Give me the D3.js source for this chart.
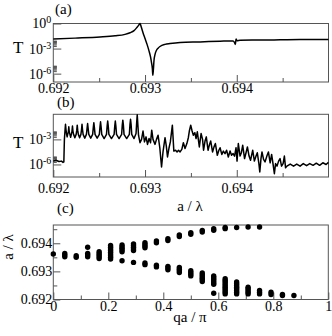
<!DOCTYPE html>
<html><head><meta charset="utf-8">
<script src="https://cdn.jsdelivr.net/npm/d3@7"></script>
<style>
body{margin:0;background:#fff}
svg{display:block}
svg text{font-family:'Liberation Serif','Times New Roman',Times,'DejaVu Serif',serif !important;fill:#000}
</style></head><body>
<svg id="chart" width="332" height="336"></svg>
<script>
// ---------- DATA ----------
// panel (a): transmission T vs a/lambda (log10 T)
const aLambdaA = [0.692000,0.692237,0.692509,0.692673,0.692782,0.692837,0.692880,0.692913,0.692935,0.692946,0.692957,0.692978,0.693000,0.693022,0.693044,0.693060,0.693071,0.693080,0.693085,0.693091,0.693098,0.693109,0.693125,0.693142,0.693163,0.693218,0.693273,0.693382,0.693600,0.693818,0.693960,0.693976,0.693985,0.693992,0.694003,0.694036,0.694254,0.694472,0.694690,0.695000];
const log10TA = [-1.85,-1.75,-1.62,-1.48,-1.3,-1.1,-0.85,-0.45,-0.15,0,-0.35,-1.1,-1.8,-2.5,-3.3,-4.0,-4.7,-5.4,-6.2,-5.5,-4.4,-3.7,-3.2,-2.95,-2.75,-2.5,-2.4,-2.27,-2.2,-2.12,-2.08,-2.3,-2.5,-1.85,-2.05,-2.0,-1.98,-1.95,-1.92,-1.9];

// panel (b): transmission T vs a/lambda (log10 T)
const aLambdaB = [
 0.692000,0.692029,0.692062,0.692089,0.692106,0.692115,
 0.692121,0.692128,0.692133,0.692138,0.692145,0.692151,
 0.692157,0.692164,0.692169,0.692174,0.692181,0.692189,
 0.692197,0.692204,0.692209,0.692214,0.692221,0.692235,
 0.692249,0.692256,0.692261,0.692266,0.692273,0.692287,
 0.692301,0.692308,0.692313,0.692318,0.692325,0.692343,
 0.692361,0.692368,0.692374,0.692380,0.692387,0.692408,
 0.692429,0.692436,0.692442,0.692448,0.692455,0.692478,
 0.692502,0.692509,0.692515,0.692521,0.692528,0.692554,
 0.692580,0.692587,0.692593,0.692599,0.692606,0.692634,
 0.692663,0.692670,0.692676,0.692682,0.692689,0.692717,
 0.692745,0.692752,0.692758,0.692764,0.692771,0.692800,
 0.692829,0.692836,0.692842,0.692848,0.692855,0.692880,
 0.692902,0.692909,0.692915,0.692921,0.692929,
 0.692945,0.692962,0.692978,0.692994,0.693011,0.693027,0.693044,0.693060,0.693073,0.693087,0.693109,0.693125,0.693142,0.693161,0.693180,0.693196,0.693218,0.693232,0.693245,0.693262,0.693276,0.693298,0.693314,0.693333,0.693349,0.693365,0.693382,0.693401,0.693418,0.693436,0.693456,0.693472,0.693483,0.693498,0.693513,0.693527,0.693543,0.693556,0.693570,0.693592,0.693611,0.693627,0.693638,0.693654,0.693668,0.693687,0.693703,0.693716,0.693736,0.693752,0.693767,0.693788,0.693805,0.693818,0.693837,0.693854,0.693872,0.693889,0.693908,0.693927,0.693943,0.693960,0.693976,0.693992,0.694003,0.694017,0.694036,0.694050,0.694065,0.694085,0.694101,0.694116,0.694134,0.694150,0.694174,0.694192,0.694210,0.694224,0.694240,0.694251,0.694264,0.694275,0.694292,0.694308,0.694328,0.694345,0.694364,0.694380,0.694396,0.694410,0.694423,0.694439,0.694456,0.694472,0.694488,0.694505,0.694519,0.694532,0.694547,0.694583,0.694619,0.694654,0.694690,0.694725,0.694761,0.694796,0.694832,0.694867,0.694903,0.694938,0.694974,0.694999];
const log10TB = [
 -5.6,-5.5,-5.65,-5.6,-5.75,-5.7,
 -3.0,-1.9,-1.2,-1.8,-2.4,-2.7,
 -2.4,-2.1,-1.5,-2.1,-2.4,-2.75,
 -2.4,-2.0,-1.4,-2.0,-2.4,-2.8,
 -2.4,-1.9,-1.3,-1.9,-2.4,-2.8,
 -2.4,-1.8,-1.2,-1.8,-2.4,-2.85,
 -2.4,-1.7,-1.1,-1.7,-2.4,-2.85,
 -2.4,-1.6,-1.0,-1.6,-2.4,-2.85,
 -2.4,-1.5,-0.9,-1.5,-2.4,-2.9,
 -2.4,-1.4,-0.8,-1.4,-2.4,-2.9,
 -2.4,-1.4,-0.8,-1.4,-2.4,-2.9,
 -2.4,-1.3,-0.7,-1.3,-2.4,-2.9,
 -2.4,-1.2,-0.6,-1.2,-2.4,-2.9,
 -2.3,-1.0,-0.05,-1.1,-2.5,
 -3.4,-3.0,-2.0,-3.3,-2.7,-3.6,-2.9,-3.4,-1.9,-3.0,-3.6,-3.0,-2.5,-4.0,-6.3,-4.5,-2.8,-3.8,-5.1,-4.0,-3.3,-1.3,-4.4,-4.3,-4.5,-4.3,-4.5,-4.2,-3.4,-4.1,-3.5,-2.8,-2.0,-1.3,-2.0,-2.5,-2.2,-2.9,-2.1,-3.9,-2.3,-3.0,-4.3,-3.2,-2.7,-4.3,-3.6,-3.2,-4.5,-3.9,-3.5,-4.9,-4.3,-4.0,-4.8,-4.4,-4.7,-4.3,-5.1,-4.4,-4.9,-4.7,-5.0,-4.0,-5.6,-3.5,-5.0,-4.6,-3.7,-5.3,-4.6,-3.9,-5.0,-5.5,-4.3,-5.6,-5.0,-4.6,-5.8,-6.9,-5.3,-4.5,-5.4,-5.7,-5.0,-4.5,-5.8,-4.8,-6.0,-7.1,-5.9,-6.2,-5.6,-5.3,-6.2,-5.9,-5.0,-6.4,-6.2,-5.95,-6.2,-5.95,-6.2,-5.9,-6.15,-5.9,-6.1,-5.85,-6.1,-5.8,-6.0,-5.75];

// panel (c): band structure, qa/pi columns and a/lambda values per column
const qaC = [0,0.0417,0.0833,0.125,0.1667,0.2083,0.25,0.2917,0.3333,0.375,0.4167,0.4583,0.5,0.5417,0.5833,0.625,0.6667,0.7083,0.75,0.7917,0.8333,0.875];
const aLambdaC = [
 [0.69362],
 [0.69352,0.69358,0.69364],
 [0.69350,0.69356],
 [0.69352,0.69358,0.69364,0.69386],
 [0.69346,0.69352,0.69358,0.69364,0.69370],
 [0.69344,0.69350,0.69356,0.69362,0.69368,0.69374,0.69380,0.69386,0.69392],
 [0.69338,0.69370,0.69376,0.69382,0.69388,0.69394],
 [0.69332,0.69374,0.69380,0.69386,0.69392,0.69398],
 [0.69324,0.69330,0.69384,0.69390,0.69396,0.69402],
 [0.69316,0.69322,0.69402,0.69408],
 [0.69306,0.69312,0.69318,0.69410,0.69416],
 [0.69296,0.69302,0.69308,0.69314,0.69424,0.69430],
 [0.69284,0.69290,0.69296,0.69302,0.69432,0.69438],
 [0.69264,0.69270,0.69276,0.69282,0.69288,0.69294,0.69440,0.69446],
 [0.69222,0.69254,0.69260,0.69266,0.69272,0.69278,0.69284,0.69446,0.69452],
 [0.69220,0.69226,0.69232,0.69238,0.69244,0.69250,0.69256,0.69262,0.69268,0.69274,0.69452,0.69456],
 [0.69220,0.69226,0.69232,0.69238,0.69244,0.69250,0.69256,0.69262,0.69456],
 [0.69220,0.69226,0.69232,0.69238,0.69244,0.69458],
 [0.69220,0.69226,0.69232,0.69458],
 [0.69218,0.69226],
 [0.69214,0.69218],
 [0.69214]
];

// ticks
const xTicksAB = [0.692,0.693,0.694];
const xMinorAB = [0.6925,0.6935,0.6945];
const yTicksA = [1,1e-3,1e-6];
const yTicksB = [1e-3,1e-6];
const yMinorLog = [2e-3,3e-3,4e-3,5e-3,6e-3,7e-3,8e-3,9e-3,2e-6,3e-6,4e-6,5e-6,6e-6,7e-6,8e-6,9e-6];
const xTicksC = [0,0.2,0.4,0.6,0.8,1];
const xMinorC = [0.1,0.3,0.5,0.7,0.9];
const yTicksC = [0.692,0.693,0.694];
const yMinorC = [0.6925,0.6935,0.6945];

// ---------- DRAW ----------
const svg = d3.select("#chart");
const L = 53.3, R = 328.5;
const FONT = "'Liberation Serif','Times New Roman',Times,'DejaVu Serif',serif";

const xAB = d3.scaleLinear().domain([0.692,0.695]).range([L,R]);
const yA = d3.scaleLog().domain([1e-7,1]).range([82,23.5]);
const yB = d3.scaleLog().domain([Math.pow(10,-7.5),1]).range([177,114.3]);
const xC = d3.scaleLinear().domain([0,1]).range([L,328.3]);
const yC = d3.scaleLinear().domain([0.692,0.69465]).range([299.5,225]);

function styleAxis(g, fs){
  g.attr("font-family", FONT).attr("font-size", fs);
  g.select(".domain").remove();
  g.selectAll(".tick line").attr("stroke","#555");
  g.selectAll(".tick text").attr("fill","#000").style("font-family",FONT);
}
function supLabels(g){
  g.selectAll(".tick text").each(function(d){
    const t = d3.select(this); const e = Math.round(Math.log10(d));
    t.text(null);
    t.append("tspan").text("10");
    t.append("tspan").attr("dy","-0.5em").attr("font-size","10px").text(e===0?"0":"-"+(-e));
  });
}

function logPanel(x, y, top, bottom, yTicks, xPad, xs, ys, curve){
  svg.append("rect").attr("x",L).attr("y",top).attr("width",R-L).attr("height",bottom-top)
     .attr("fill","none").attr("stroke","#555").attr("stroke-width",1);
  svg.append("g").attr("transform",`translate(0,${bottom})`)
    .call(d3.axisBottom(x).tickValues(xTicksAB).tickSize(-7).tickPadding(xPad).tickFormat(d3.format(".3f")))
    .call(g=>styleAxis(g,14));
  svg.append("g").attr("transform",`translate(0,${bottom})`)
    .call(d3.axisBottom(x).tickValues(xMinorAB).tickSize(-4).tickFormat(""))
    .call(g=>styleAxis(g,14));
  svg.append("g").attr("transform",`translate(${L},0)`)
    .call(d3.axisLeft(y).tickValues(yTicks).tickSize(-8).tickPadding(2))
    .call(g=>styleAxis(g,14)).call(supLabels);
  svg.append("g").attr("transform",`translate(${L},0)`)
    .call(d3.axisLeft(y).tickValues(yMinorLog).tickSize(-3.5).tickFormat(""))
    .call(g=>styleAxis(g,14));
  const line = d3.line().x((d,i)=>x(xs[i])).y((d,i)=>y(Math.pow(10,ys[i]))).curve(curve);
  svg.append("path").datum(xs).attr("d",line).attr("fill","none")
     .attr("stroke","#000").attr("stroke-width",1.5).attr("stroke-linejoin","round");
}

logPanel(xAB, yA, 23.5, 82, yTicksA, 1.5, aLambdaA, log10TA, d3.curveMonotoneX);
logPanel(xAB, yB, 114.3, 177, yTicksB, 6, aLambdaB, log10TB, d3.curveLinear);

// panel (c)
svg.append("rect").attr("x",L).attr("y",225).attr("width",328.3-L).attr("height",299.5-225)
   .attr("fill","none").attr("stroke","#555").attr("stroke-width",1);
svg.append("g").attr("transform","translate(0,299.5)")
  .call(d3.axisBottom(xC).tickValues(xTicksC).tickSize(-7).tickPadding(2).tickFormat(d=>String(d)))
  .call(g=>styleAxis(g,14));
svg.append("g").attr("transform","translate(0,299.5)")
  .call(d3.axisBottom(xC).tickValues(xMinorC).tickSize(-4).tickFormat(""))
  .call(g=>styleAxis(g,14));
svg.append("g").attr("transform",`translate(${L},0)`)
  .call(d3.axisLeft(yC).tickValues(yTicksC).tickSize(-7).tickPadding(1).tickFormat(d3.format(".3f")))
  .call(g=>styleAxis(g,14));
svg.append("g").attr("transform",`translate(${L},0)`)
  .call(d3.axisLeft(yC).tickValues(yMinorC).tickSize(-4).tickFormat(""))
  .call(g=>styleAxis(g,14));

const pts = [];
qaC.forEach((q,i)=>aLambdaC[i].forEach(a=>pts.push([q,a])));
svg.append("g").selectAll("circle").data(pts).join("circle")
  .attr("cx",d=>xC(d[0])).attr("cy",d=>yC(d[1])).attr("r",2.7).attr("fill","#000");

// labels
const txt = (x,y,s,fs,anchor)=>svg.append("text").attr("x",x).attr("y",y).attr("font-size",fs)
   .style("font-family",FONT).attr("text-anchor",anchor||"start").text(s);
txt(55,14,"(a)",15);
txt(57,107,"(b)",15);
txt(57,213,"(c)",15);
txt(13,53,"T",17);
txt(13,148,"T",17);
txt(190,211,"a / λ",15,"middle");
txt(190,322,"qa / π",15,"middle");
svg.append("text").attr("transform","translate(13,247) rotate(-90)").attr("font-size",15)
   .style("font-family",FONT).attr("text-anchor","middle").text("a / λ");
</script>
</body></html>
